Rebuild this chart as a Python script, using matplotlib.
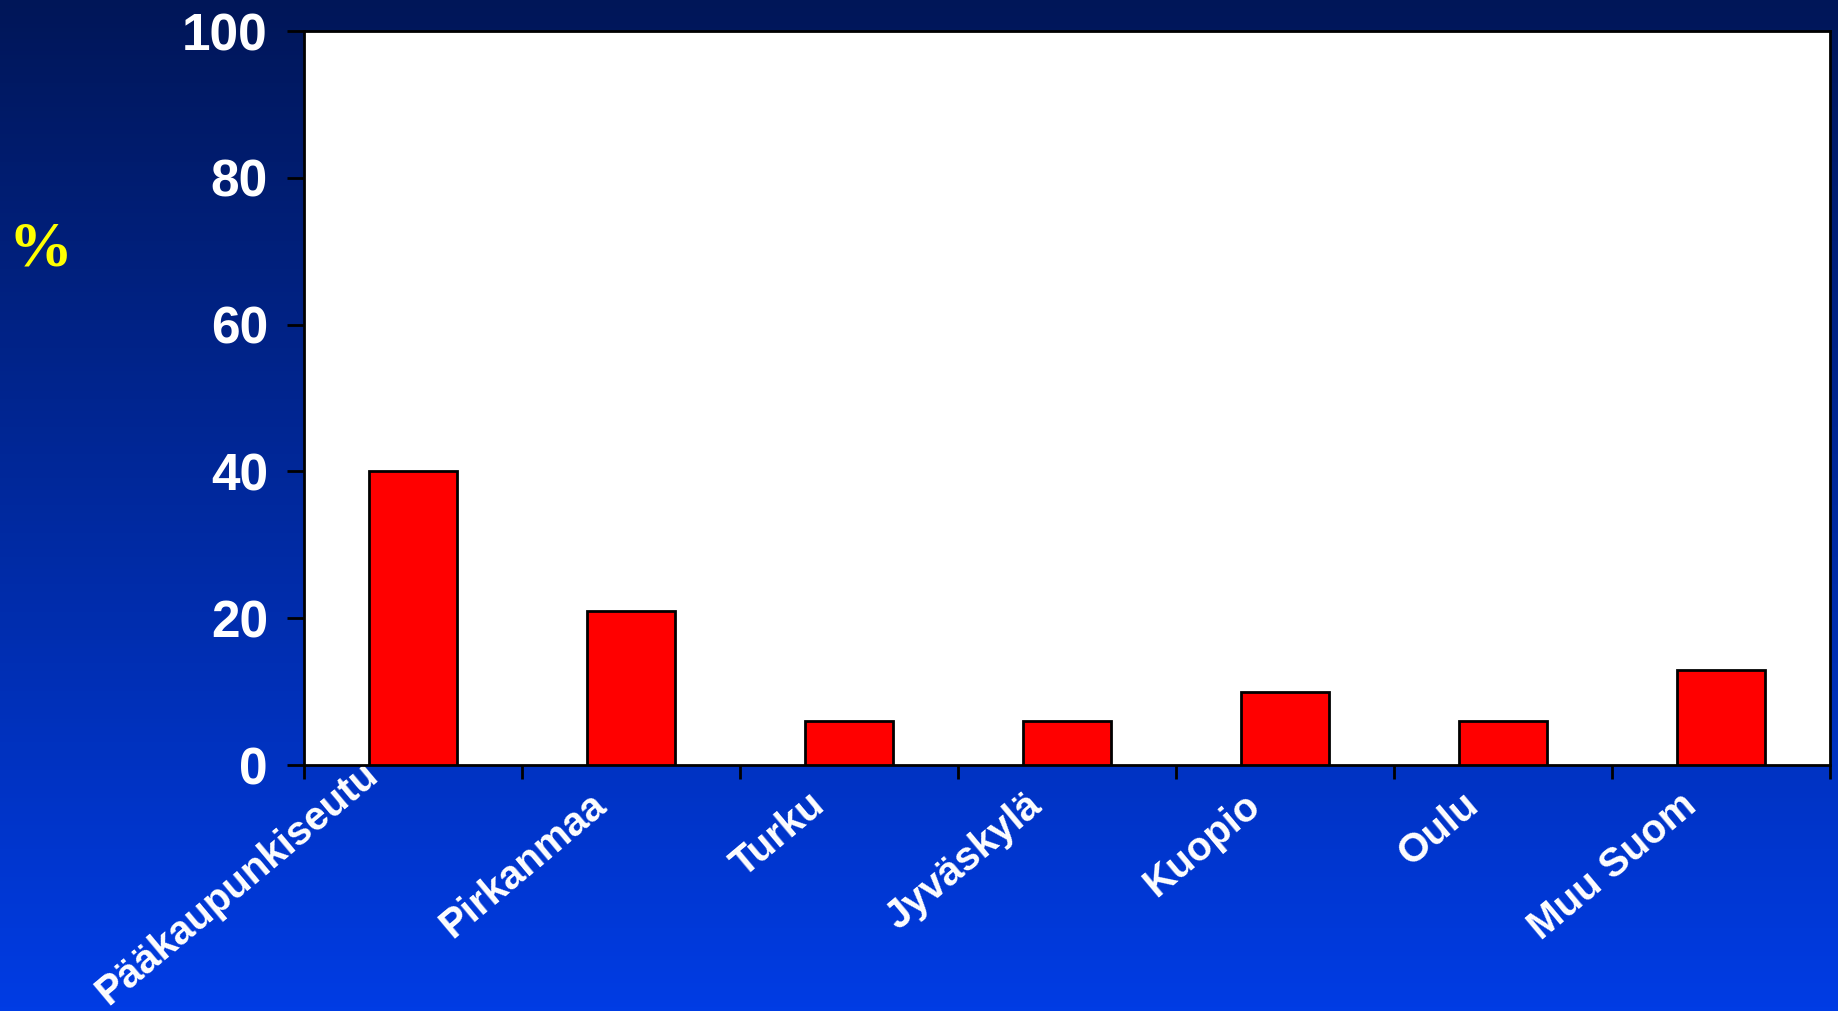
import numpy as np
import matplotlib
matplotlib.use("Agg")
import matplotlib.pyplot as plt
import matplotlib.transforms as mtransforms

categories = ["Pääkaupunkiseutu", "Pirkanmaa", "Turku", "Jyväskylä", "Kuopio", "Oulu", "Muu Suom"]
values = [40, 21, 6, 6, 10, 6, 13]
yticks = [0, 20, 40, 60, 80, 100]

fig = plt.figure(figsize=(18.38, 10.11), dpi=100)

# gradient background
bg = fig.add_axes([0, 0, 1, 1], zorder=0)
grad = np.linspace(0, 1, 256).reshape(-1, 1)
top = np.array([0, 22, 88]) / 255
bottom = np.array([0, 60, 228]) / 255
img = top + (bottom - top) * grad[..., None]
bg.imshow(img, aspect="auto", extent=[0, 1, 0, 1])
bg.axis("off")

ax_bottom = 0.2433
ax = fig.add_axes([0.1654, ax_bottom, 0.9956 - 0.1654, 0.9693 - ax_bottom], zorder=1)
ax.set_facecolor("white")
x = np.arange(len(categories))
ax.bar(x, values, width=0.4, color="#ff0000", edgecolor="black", linewidth=2, zorder=3)

ax.set_xlim(-0.5, len(categories) - 0.5)
ax.set_ylim(0, 100)
ax.set_yticks(yticks)
ax.set_yticklabels([str(v) for v in yticks], fontsize=37, fontweight="bold",
                   color="white", family="Liberation Sans")
ax.tick_params(axis="y", direction="out", length=12, width=2, pad=14, colors="black")
for lab in ax.get_yticklabels():
    lab.set_color("white")

ax.set_xticks(np.arange(len(categories) + 1) - 0.5)
ax.set_xticklabels([])
ax.tick_params(axis="x", direction="out", length=10, width=2)
ax.set_xticks(x, minor=True)
ax.set_xticklabels(categories, minor=True, rotation=40, ha="right",
                   rotation_mode="anchor", fontsize=29, fontweight="bold",
                   color="white", family="Liberation Sans")
ax.tick_params(axis="x", which="minor", length=0, pad=12)

# shift labels left a little; the long first one sits further down-left
for i, lab in enumerate(ax.get_xticklabels(minor=True)):
    dx, dy = -0.42, -0.04
    if i == 0:
        dx, dy = -0.52, 0.27
    lab.set_transform(lab.get_transform() +
                      mtransforms.ScaledTranslation(dx, dy, fig.dpi_scale_trans))

for s in ax.spines.values():
    s.set_linewidth(2)
    s.set_color("black")

fig.text(0.022, 0.752, "%", fontsize=46, fontweight="bold", color="#ffff00",
         family="Liberation Serif", ha="center", va="center")

fig.savefig("out.png", dpi=100)
